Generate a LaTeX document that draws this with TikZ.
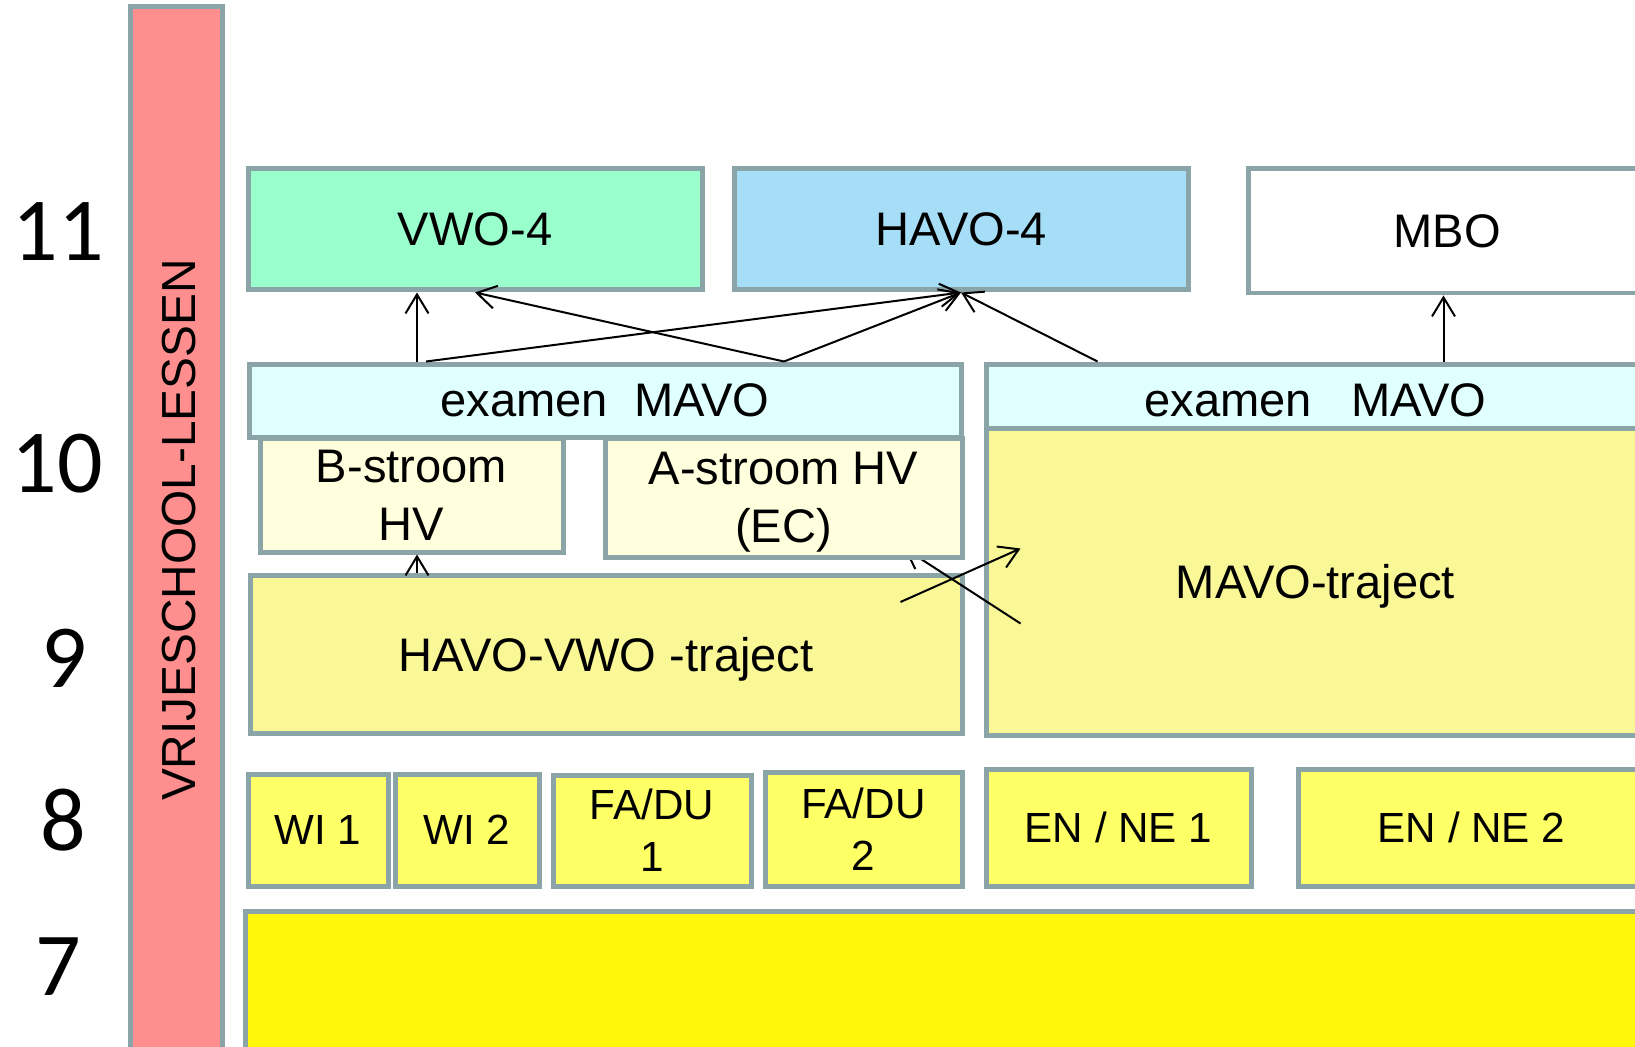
\documentclass[tikz,border=0pt]{standalone}
\usepackage{fontspec}
\setmainfont{Liberation Sans}
\newfontfamily\cijferfont{Carlito}
\usetikzlibrary{arrows.meta}
\definecolor{randgrijs}{RGB}{139,164,167}
\definecolor{vrijrood}{RGB}{255,143,143}
\definecolor{vwogroen}{RGB}{153,255,204}
\definecolor{havoblauw}{RGB}{166,222,248}
\definecolor{examenblauw}{RGB}{224,255,255}
\definecolor{stroomgeel}{RGB}{255,255,221}
\definecolor{trajectgeel}{RGB}{250,248,150}
\definecolor{vakgeel}{RGB}{255,255,102}
\definecolor{klasgeel}{RGB}{255,246,10}
\tikzset{vak/.style={draw=randgrijs,line width=0.5mm,inner sep=0pt,align=center,text depth=0pt,
           font=\fontsize{13.4}{16.5}\selectfont},
         hoeken/.style args={#1/#2/#3/#4}{at={({(#1+#3)/2},{(#2+#4)/2})},
           minimum width={(#3-#1)*0.1mm},minimum height={(#4-#2)*0.1mm}},
         klein/.style={font=\fontsize{12}{14.8}\selectfont},
         jaar/.style={inner sep=0pt,font=\cijferfont\fontsize{25.6}{30}\selectfont},
         pijl/.style={-{Straight Barb[length=1.9mm,width=2.3mm]},line width=0.2mm}
}

\begin{document}
\begin{tikzpicture}[x=0.1mm,y=-0.1mm]
  \useasboundingbox (0,0) rectangle (1635,1047);
  % balk links en de jaren
  \node[vak,fill=vrijrood,hoeken=130/7/222/1070] (balk) {};
  \node[rotate=90,inner sep=0pt,font=\fontsize{13.6}{16}\selectfont] (balktekst) at (179,530) {VRIJESCHOOL-LESSEN};
  \node[jaar] (j11) at (58,232) {11};
  \node[jaar] (j10) at (57,464) {10};
  \node[jaar] (j9) at (64,658) {9};
  \node[jaar] (j8) at (63,820) {8};
  \node[jaar] (j7) at (58,967) {7};
  % klas 7 en 8
  \node[vak,fill=klasgeel,hoeken=245/911/1660/1070] (klas7) {};
  \node[vak,klein,fill=vakgeel,hoeken=248/774/388/886] (wi1) {WI 1};
  \node[vak,klein,fill=vakgeel,hoeken=395/774/539/886] (wi2) {WI 2};
  \node[vak,klein,fill=vakgeel,hoeken=553/775/751/886] (fadu1) {FA/DU\\1};
  \node[vak,klein,fill=vakgeel,hoeken=765/772/962/886] (fadu2) {FA/DU\\2};
  \node[vak,klein,fill=vakgeel,hoeken=986/769/1251/886] (enne1) {EN / NE 1};
  \node[vak,klein,fill=vakgeel,hoeken=1298/769/1645/886] (enne2) {EN / NE 2};
  % klas 9 en 10
  \node[vak,fill=trajectgeel,hoeken=250/575/962/733] (havovwo) {HAVO-VWO -traject};
  \node[vak,fill=stroomgeel,hoeken=260/438/563/552] (bstroom) {B-stroom\\HV};
  \node[vak,fill=examenblauw,hoeken=249/364/961/437] (examenl) {examen\ \ MAVO};
  \node[vak,fill=examenblauw,hoeken=986/364/1645/437] (examenr) {examen\ \ \ MAVO};
  \node[vak,fill=trajectgeel,hoeken=986/428/1645/735] (mavo) {MAVO-traject};
  % klas 11
  \node[vak,fill=vwogroen,hoeken=248/169/702/290] (vwo) {VWO-4};
  \node[vak,fill=havoblauw,hoeken=734/169/1188/290] (havo) {HAVO-4};
  \node[vak,fill=white,hoeken=1248/169/1646/293] (mbo) {MBO};
  % overgangen
  \draw[pijl] ([shift={(-188,0)}]examenl.north) coordinate (p1) -- (p1 |- vwo.south);
  \draw[pijl] ([shift={(-179,0)}]examenl.north) -- (havo.south);
  \draw[pijl] ([shift={(179,0)}]examenl.north) -- (vwo.south);
  \draw[pijl] ([shift={(179,0)}]examenl.north) -- (havo.south);
  \draw[pijl] ([shift={(-218,0)}]examenr.north) -- (havo.south);
  \draw[pijl] ([shift={(128,0)}]examenr.north) coordinate (p2) -- (p2 |- mbo.south);
  \draw[pijl] ([shift={(-189,0)}]havovwo.north) coordinate (p3) -- (p3 |- bstroom.south);
  \draw[pijl] ([shift={(-64,-52)}]havovwo.east) -- ([shift={(37,-33)}]mavo.west);
  \coordinate (astip) at (904,548);
  \draw[pijl] ([shift={(37,42)}]mavo.west) -- (astip);
  \node[vak,fill=stroomgeel,hoeken=605/438/962/557] (astroom) {A-stroom HV\\(EC)};
\end{tikzpicture}
\end{document}
